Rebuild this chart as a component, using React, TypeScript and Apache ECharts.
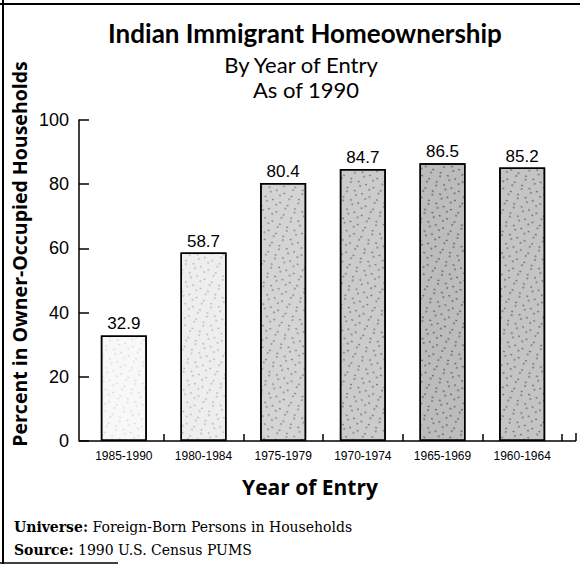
import React, { useEffect, useRef } from "react";
import * as echarts from "echarts";

const categories = ["1985-1990", "1980-1984", "1975-1979", "1970-1974", "1965-1969", "1960-1964"];
const values = [32.9, 58.7, 80.4, 84.7, 86.5, 85.2];
const yMin = 0;
const yMax = 100;
const yInterval = 20;

const titleText = "Indian Immigrant Homeownership";
const subtitleLines = ["By Year of Entry", "As of 1990"];
const yAxisName = "Percent in Owner-Occupied Households";
const xAxisName = "Year of Entry";
const footerLines = [
  { label: "Universe:", text: " Foreign-Born Persons in Households" },
  { label: "Source:", text: " 1990 U.S. Census PUMS" },
];

// visual styling only (stipple density per bar)
const barBase = ["#f8f8f8", "#eeeeee", "#d4d4d4", "#cbcbcb", "#bcbcbc", "#c4c4c4"];
const barDot = [0.2, 0.38, 0.62, 0.68, 0.78, 0.72];

const sans = "'Open Sans', 'DejaVu Sans', sans-serif";
const hum = "Lato, 'Open Sans', sans-serif";
const helv = "'Liberation Sans', Arial, sans-serif";
const serif = "'DejaVu Serif', 'Liberation Serif', serif";

export default function App() {
  const ref = useRef<HTMLDivElement>(null);
  useEffect(() => {
    if (!ref.current) return;
    const chart = echarts.init(ref.current, undefined, { renderer: "svg" });
    const option: any = {
      animation: false,
      backgroundColor: "#ffffff",
      grid: { left: 84, top: 120, width: 478, height: 321, containLabel: false, outerBoundsMode: "none" },
      xAxis: {
        type: "category",
        data: categories,
        axisLine: { show: false },
        axisTick: {
          show: true,
          inside: true,
          length: 7,
          interval: (i: number) => i !== 0,
          lineStyle: { color: "#000", width: 1.5 },
        },
        axisLabel: { color: "#000", fontFamily: helv, fontSize: 12, margin: 9, interval: 0 },
        splitLine: { show: false },
      },
      yAxis: {
        type: "value",
        min: yMin,
        max: yMax,
        interval: yInterval,
        offset: 5,
        axisLine: { show: true, lineStyle: { color: "#000", width: 1.5 } },
        axisTick: { show: true, inside: true, length: 10, lineStyle: { color: "#000", width: 1.5 } },
        axisLabel: { color: "#000", fontFamily: helv, fontSize: 18, margin: 10 },
        splitLine: { show: false },
      },
      series: [
        {
          type: "bar",
          barWidth: 46,
          data: values.map((v, i) => ({
            value: v,
            itemStyle: {
              color: barBase[i],
              borderColor: "#000",
              borderWidth: 1.5,
              decal: {
                symbol: "circle",
                symbolSize: 0.7,
                dashArrayX: [[1, 2, 2, 1, 1, 3], [0, 3, 1, 1, 2, 2], [2, 1, 1, 4]],
                dashArrayY: [2, 1, 1, 2, 3, 1],
                rotation: 0.4,
                color: `rgba(0,0,0,${barDot[i]})`,
              },
            },
          })),
          label: {
            show: true,
            position: "top",
            distance: 3,
            color: "#000",
            fontFamily: helv,
            fontSize: 17,
          },
        },
      ],
      graphic: [
        { type: "line", shape: { x1: 0, y1: 4, x2: 580, y2: 4 }, style: { stroke: "#000", lineWidth: 2 } },
        { type: "line", shape: { x1: 3, y1: 0, x2: 3, y2: 564 }, style: { stroke: "#000", lineWidth: 2 } },
        { type: "line", shape: { x1: 0, y1: 563, x2: 118, y2: 563 }, style: { stroke: "#000", lineWidth: 1.5 } },
        { type: "line", shape: { x1: 79, y1: 441, x2: 576, y2: 441 }, style: { stroke: "#000", lineWidth: 1.5 } },
        { type: "line", shape: { x1: 576, y1: 441, x2: 576, y2: 433 }, style: { stroke: "#000", lineWidth: 1.5 } },
        {
          type: "text",
          x: 305,
          y: 33,
          style: { text: titleText, font: `bold 26px ${hum}`, fill: "#000", align: "center", verticalAlign: "middle" },
        },
        {
          type: "text",
          x: 301,
          y: 64,
          style: { text: subtitleLines[0], font: `22px ${hum}`, fill: "#000", align: "center", verticalAlign: "middle" },
        },
        {
          type: "text",
          x: 306,
          y: 89,
          style: { text: subtitleLines[1], font: `22px ${hum}`, fill: "#000", align: "center", verticalAlign: "middle" },
        },
        {
          type: "text",
          x: 19,
          y: 254,
          rotation: Math.PI / 2,
          style: { text: yAxisName, font: `bold 19.5px ${sans}`, fill: "#000", align: "center", verticalAlign: "middle" },
        },
        {
          type: "text",
          x: 310,
          y: 487,
          style: { text: xAxisName, font: `bold 21px ${sans}`, fill: "#000", align: "center", verticalAlign: "middle" },
        },
        ...footerLines.map((f, i) => ({
          type: "text",
          x: 14,
          y: 527 + i * 23,
          style: {
            text: `{b|${f.label}}{r|${f.text}}`,
            align: "left",
            verticalAlign: "middle",
            rich: {
              b: { fontFamily: serif, fontWeight: "bold", fontSize: 14, fill: "#000", color: "#000" },
              r: { fontFamily: serif, fontSize: 14, fill: "#000", color: "#000" },
            },
          },
        })),
      ],
    };
    chart.setOption(option);
    return () => chart.dispose();
  }, []);
  return (
    <div
      ref={ref}
      style={{ position: "fixed", left: 0, top: 0, width: 580, height: 564, background: "#fff" }}
    />
  );
}
